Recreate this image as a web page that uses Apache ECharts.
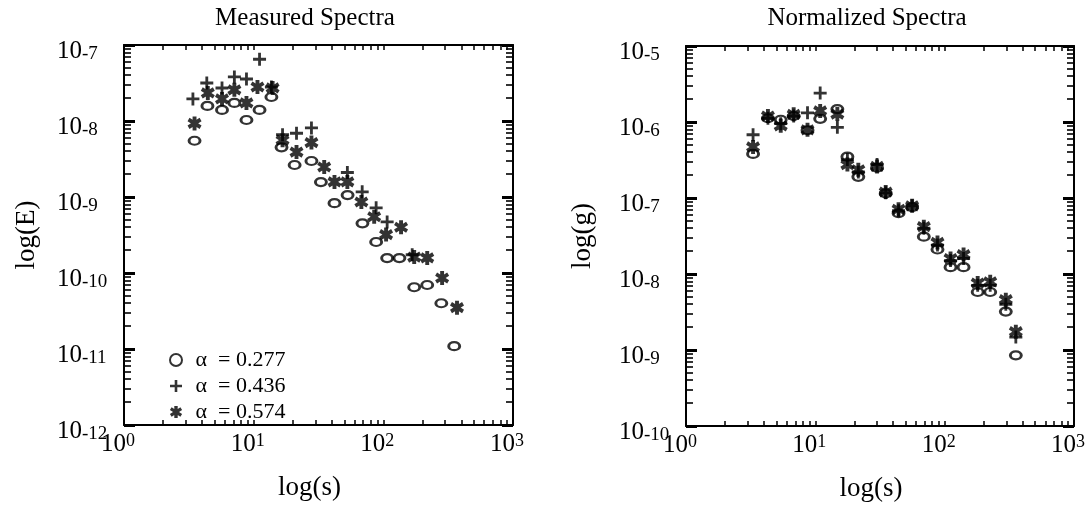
<!DOCTYPE html>
<html><head><meta charset="utf-8">
<script src="https://cdn.jsdelivr.net/npm/echarts@6/dist/echarts.min.js"></script>
<style>html,body{margin:0;padding:0;background:#fff}#c{width:1091px;height:509px}</style>
</head><body><div id="c"></div>
<script>
// ---------------- data ----------------
const seriesNames = ['α  = 0.277', 'α  = 0.436', 'α  = 0.574'];
const titles = ['Measured Spectra', 'Normalized Spectra'];
const yNames = ['log(E)', 'log(g)'];
const xName = 'log(s)';
const xDecades = [1, 10, 100, 1000];
const yDecadesLeft = [1e-12, 1e-11, 1e-10, 1e-9, 1e-8, 1e-7];
const yDecadesRight = [1e-10, 1e-9, 1e-8, 1e-7, 1e-6, 1e-5];

// Measured spectra (left)
const measS_277 = [3.5, 4.4, 5.7, 7.1, 8.8, 11.1, 13.7, 16.4, 20.7, 27.9, 33, 42, 53, 69, 88, 107, 133, 173, 218, 280, 352];
const measE_277 = [5.5e-9, 1.58e-8, 1.40e-8, 1.73e-8, 1.03e-8, 1.40e-8, 2.07e-8, 4.5e-9, 2.64e-9, 2.98e-9, 1.57e-9, 8.3e-10, 1.06e-9, 4.5e-10, 2.56e-10, 1.57e-10, 1.57e-10, 6.5e-11, 6.95e-11, 4.0e-11, 1.09e-11];
const measS_436 = [3.4, 4.35, 5.7, 7.1, 8.8, 11.1, 13.7, 16.7, 21.4, 27.9, 52.8, 68.7, 88, 107, 167];
const measE_436 = [1.95e-8, 3.16e-8, 2.72e-8, 3.8e-8, 3.57e-8, 6.5e-8, 2.8e-8, 6.6e-9, 6.9e-9, 8.1e-9, 2.1e-9, 1.17e-9, 7.2e-10, 4.7e-10, 1.74e-10];
const measS_574 = [3.5, 4.43, 5.7, 7.1, 8.8, 10.7, 14, 16.7, 21.4, 27.9, 35, 42, 52.8, 67.7, 85, 105, 137, 173, 218, 284, 370];
const measE_574 = [9.3e-9, 2.34e-8, 1.95e-8, 2.57e-8, 1.73e-8, 2.8e-8, 2.72e-8, 5.6e-9, 3.9e-9, 5.2e-9, 2.48e-9, 1.58e-9, 1.58e-9, 8.6e-10, 5.5e-10, 3.2e-10, 4.0e-10, 1.62e-10, 1.58e-10, 8.6e-11, 3.5e-11];

// Normalized spectra (right)
const normS = [3.3, 4.3, 5.4, 6.8, 8.7, 10.9, 14.8, 17.7, 21.5, 30, 35, 44, 56, 69, 88, 111, 140, 180, 225, 297, 355];
const normG_277 = [3.8e-7, 1.12e-6, 1.07e-6, 1.2e-6, 7.8e-7, 1.1e-6, 1.48e-6, 3.5e-7, 1.9e-7, 2.5e-7, 1.15e-7, 6.3e-8, 7.6e-8, 3.1e-8, 2.1e-8, 1.23e-8, 1.23e-8, 5.8e-9, 5.8e-9, 3.2e-9, 8.5e-10];
const normG_436 = [6.8e-7, 1.12e-6, 9.5e-7, 1.2e-6, 1.32e-6, 2.4e-6, 8.5e-7, 3.2e-7, 2.2e-7, 2.75e-7, 1.17e-7, 6.8e-8, 7.9e-8, 4.0e-8, 2.4e-8, 1.5e-8, 1.6e-8, 7.1e-9, 7.1e-9, 4.0e-9, 1.48e-9];
const normG_574 = [4.7e-7, 1.2e-6, 8.9e-7, 1.26e-6, 7.9e-7, 1.4e-6, 1.27e-6, 2.75e-7, 2.35e-7, 2.6e-7, 1.2e-7, 7.1e-8, 7.9e-8, 4.2e-8, 2.6e-8, 1.6e-8, 1.8e-8, 7.6e-9, 7.9e-9, 4.6e-9, 1.74e-9];

// ---------------- styling ----------------
const FONT = "'Liberation Serif','DejaVu Serif','Times New Roman',serif";
const PLUS = 'path://M4.7,0H7.3V4.7H12V7.3H7.3V12H4.7V7.3H0V4.7H4.7Z';
const STAR = 'path://M4.3,0H7.7V12H4.3Z M-0.1,4.1L1.6,1.2L12.1,7.9L10.4,10.8Z M1.6,10.8L-0.1,7.9L10.4,1.2L12.1,4.1Z';

function minorTicks(lo, hi) {
  const out = [];
  for (let e = lo; e < hi; e++) for (let k = 1; k <= 9; k++) out.push(k * Math.pow(10, e));
  out.push(Math.pow(10, hi));
  return out;
}
function pow10(v) { return Math.round(Math.log10(v)); }

const xRich = {
  b: {fontFamily: FONT, fontSize: 25, color: '#000', lineHeight: 26},
  e: {fontFamily: FONT, fontSize: 18, color: '#000', lineHeight: 26, padding: [0, 0, 6, 0]}
};
const yRich = {
  b: {fontFamily: FONT, fontSize: 25, color: '#000', lineHeight: 26},
  e: {fontFamily: FONT, fontSize: 19, color: '#000', lineHeight: 21, verticalAlign: 'bottom'}
};

function makeX(gi) {
  const common = {
    type: 'log', logBase: 10, gridIndex: gi, min: 1, max: 1000,
    axisLine: {show: true, lineStyle: {color: '#000', width: 2}},
    axisTick: {show: true, inside: true, length: 5, customValues: minorTicks(0, 3), lineStyle: {color: '#000', width: 1.5}},
    splitLine: {show: false}, minorTick: {show: false}
  };
  const bottom = Object.assign({}, common, {
    position: 'bottom',
    axisLabel: {show: true, customValues: xDecades, margin: 6, padding: [0, 12, 0, 0],
      formatter: v => '{b|10}{e|' + pow10(v) + '}', rich: xRich},
    name: xName, nameLocation: 'middle', nameGap: 49,
    nameTextStyle: {fontFamily: FONT, fontSize: 27, color: '#000', padding: [0, 18, 0, 0]}
  });
  const top = Object.assign({}, common, {position: 'top', axisLabel: {show: false}});
  return [bottom, top];
}

function makeY(gi, lo, hi, decades, name, nameGap) {
  const base = {
    type: 'log', logBase: 10, gridIndex: gi, min: Math.pow(10, lo), max: Math.pow(10, hi),
    splitLine: {show: false}, minorTick: {show: false}
  };
  const left = Object.assign({}, base, {
    position: 'left',
    axisLine: {show: true, lineStyle: {color: '#000', width: 2}},
    axisTick: {show: true, inside: true, length: 7, customValues: minorTicks(lo, hi), lineStyle: {color: '#000', width: 1.6}},
    axisLabel: {show: true, customValues: decades, align: 'left', margin: 67, padding: [12, 0, 0, 0],
      formatter: v => '{b|10}{e|' + pow10(v) + '}', rich: yRich},
    name: name, nameLocation: 'middle', nameRotate: 90, nameGap: nameGap,
    nameTextStyle: {fontFamily: FONT, fontSize: 27, color: '#000'}
  });
  const right = Object.assign({}, base, {
    position: 'right',
    axisLine: {show: true, lineStyle: {color: '#000', width: 2}},
    axisTick: {show: true, inside: true, length: 7, customValues: minorTicks(lo, hi), lineStyle: {color: '#000', width: 1.6}},
    axisLabel: {show: false}
  });
  const leftMajor = Object.assign({}, base, {
    position: 'left', axisLine: {show: false},
    axisTick: {show: true, inside: true, length: 11, customValues: decades, lineStyle: {color: '#000', width: 3}},
    axisLabel: {show: false}
  });
  const rightMajor = Object.assign({}, base, {
    position: 'right', axisLine: {show: false},
    axisTick: {show: true, inside: true, length: 11, customValues: decades, lineStyle: {color: '#000', width: 3}},
    axisLabel: {show: false}
  });
  return [left, right, leftMajor, rightMajor];
}

function zip(a, b) { return a.map((v, i) => [v, b[i]]); }
const symbols = [
  {symbol: 'circle', symbolSize: [11, 8], itemStyle: {color: 'rgba(0,0,0,0)', borderColor: '#000', borderWidth: 2.5}},
  {symbol: PLUS, symbolSize: 13, itemStyle: {color: '#000'}},
  {symbol: STAR, symbolSize: 14, itemStyle: {color: '#000'}}
];
function scatter(idx, xi, yi, s, v) {
  return Object.assign({type: 'scatter', name: seriesNames[idx], xAxisIndex: xi, yAxisIndex: yi,
    data: zip(s, v), silent: true, z: 3 + idx}, symbols[idx]);
}

const option = {
  animation: false,
  backgroundColor: '#fff',
  title: [
    {text: titles[0], left: 300, top: 1, textAlign: 'center', textStyle: {fontFamily: FONT, fontSize: 25, fontWeight: 'normal', color: '#000'}},
    {text: titles[1], left: 862, top: 1, textAlign: 'center', textStyle: {fontFamily: FONT, fontSize: 25, fontWeight: 'normal', color: '#000'}}
  ],
  legend: {
    orient: 'vertical', left: 164, top: 344, itemGap: 4, itemWidth: 13, itemHeight: 12,
    selectedMode: false,
    textStyle: {fontFamily: FONT, fontSize: 22, color: '#000', padding: [0, 0, 0, 8]},
    data: seriesNames
  },
  grid: [
    {left: 124, top: 45, width: 389, height: 380},
    {left: 686, top: 46, width: 388, height: 380}
  ],
  xAxis: [].concat(makeX(0), makeX(1)),
  yAxis: [].concat(makeY(0, -12, -7, yDecadesLeft, yNames[0], 84), makeY(1, -10, -5, yDecadesRight, yNames[1], 90)),
  series: [
    scatter(0, 0, 0, measS_277, measE_277),
    scatter(1, 0, 0, measS_436, measE_436),
    scatter(2, 0, 0, measS_574, measE_574),
    scatter(0, 2, 4, normS, normG_277),
    scatter(1, 2, 4, normS, normG_436),
    scatter(2, 2, 4, normS, normG_574)
  ]
};
const chart = echarts.init(document.getElementById('c'), null, {renderer: 'canvas'});
chart.setOption(option);
</script>
</body></html>
